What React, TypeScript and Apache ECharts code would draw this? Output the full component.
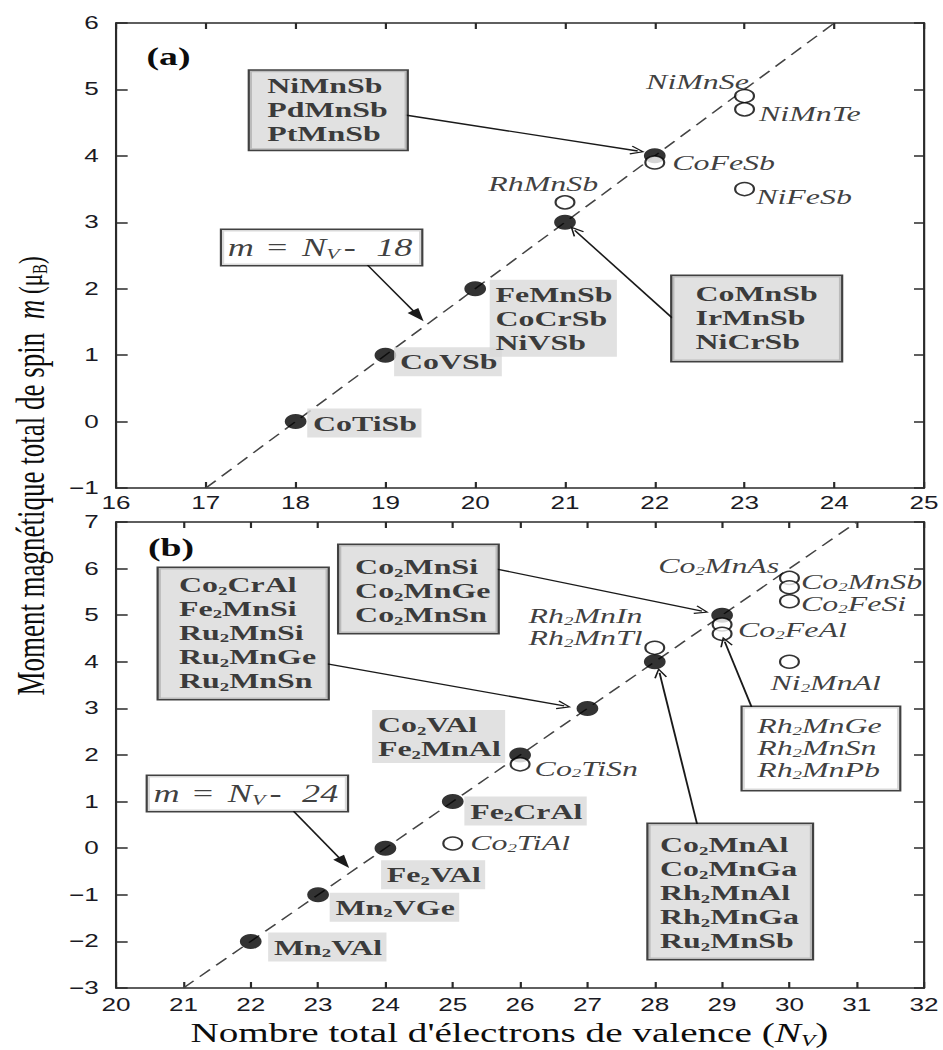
import React, { useEffect, useRef } from 'react';
import * as echarts from 'echarts';

// ---------- (a) half-Heusler alloys XYZ ----------
const halfNv = [18, 19, 20, 21, 22];
const halfM = [0, 1, 2, 3, 4];
const halfTags = ['CoTiSb', 'CoVSb', 'FeMnSb\nCoCrSb\nNiVSb', '', ''];

const halfOtherNames = ['RhMnSb', 'CoFeSb', 'NiMnSe', 'NiMnTe', 'NiFeSb'];
const halfOtherNv = [21, 22, 23, 23, 23];
const halfOtherM = [3.3, 3.9, 4.9, 4.7, 3.5];

// Slater-Pauling rule m = Nv - 18 (end points)
const halfRuleNv = [17, 24];
const halfRuleM = [-1, 6];

const halfNvTicks = [16, 25];
const halfMTicks = [-1, 6];

// ---------- (b) full-Heusler alloys X2YZ ----------
const fullNv = [22, 23, 24, 25, 26, 27, 28, 29];
const fullM = [-2, -1, 0, 1, 2, 3, 4, 5];
const fullTags = ['Mn2VAl', 'Mn2VGe', 'Fe2VAl', 'Fe2CrAl', 'Co2VAl\nFe2MnAl', '', '', ''];

const fullOtherNames = ['Co2TiAl', 'Co2TiSn', 'Rh2MnIn\nRh2MnTl', 'Co2FeAl', '', 'Co2MnAs', 'Co2MnSb', 'Co2FeSi', 'Ni2MnAl'];
const fullOtherNv = [25, 26, 28, 29, 29, 30, 30, 30, 30];
const fullOtherM = [0.1, 1.8, 4.3, 4.8, 4.6, 5.8, 5.6, 5.3, 4.0];

// Slater-Pauling rule m = Nv - 24 (end points)
const fullRuleNv = [21, 31];
const fullRuleM = [-3, 7];

const fullNvTicks = [20, 32];
const fullMTicks = [-3, 7];

// ---------- annotation layout ----------
type Note = { text: string; nv: number; m: number; kind: 'grey' | 'plain' | 'rule'; pad: number[] };
type Arrow = { from: [number, number]; to: [number, number]; head: 'open' | 'solid' };

const halfNotes: Note[] = [
  { text: 'NiMnSb\nPdMnSb\nPtMnSb', nv: 17.49, m: 5.28, kind: 'grey', pad: [3, 13, 4, 12] },
  { text: 'CoMnSb\nIrMnSb\nNiCrSb', nv: 22.195, m: 2.19, kind: 'grey', pad: [6, 16, 7, 16] },
  { text: '18', nv: 17.18, m: 2.884, kind: 'rule', pad: [4, 6, 4, 4] },
];
const fullNotes: Note[] = [
  { text: 'Co2CrAl\nFe2MnSi\nRu2MnSi\nRu2MnGe\nRu2MnSn', nv: 20.633, m: 6.013, kind: 'grey', pad: [5, 8, 6, 14] },
  { text: 'Co2MnSi\nCo2MnGe\nCo2MnSn', nv: 23.313, m: 6.506, kind: 'grey', pad: [10, 5, 6, 11] },
  { text: 'Co2MnAl\nCo2MnGa\nRh2MnAl\nRh2MnGa\nRu2MnSb', nv: 27.906, m: 0.519, kind: 'grey', pad: [9, 9, 6, 8] },
  { text: 'Rh2MnGe\nRh2MnSn\nRh2MnPb', nv: 29.305, m: 3.03, kind: 'plain', pad: [8, 12, 9, 10] },
  { text: '24', nv: 20.471, m: 1.549, kind: 'rule', pad: [4, 6, 4, 4] },
];

const halfArrows: Arrow[] = [
  { from: [19.22, 4.615], to: [21.81, 4.073], head: 'open' },
  { from: [22.195, 1.559], to: [21.109, 2.879], head: 'open' },
  { from: [18.8, 2.357], to: [19.366, 1.592], head: 'solid' },
];
const fullArrows: Arrow[] = [
  { from: [23.136, 3.953], to: [26.655, 3.052], head: 'open' },
  { from: [25.654, 5.991], to: [28.701, 5.09], head: 'open' },
  { from: [28.628, 0.519], to: [28.071, 3.762], head: 'open' },
  { from: [29.438, 3.03], to: [29.039, 4.433], head: 'open' },
  { from: [22.635, 0.798], to: [23.383, -0.311], head: 'solid' },
];

// label offsets (px) from the marker centre: [dx, dy, align, verticalAlign]
type Place = [number, number, 'left' | 'right' | 'center', 'top' | 'middle'];
const tagPlace: Record<string, Place> = {
  CoTiSb: [8, -13, 'left', 'top'],
  CoVSb: [6, -8, 'left', 'top'],
  'FeMnSb\nCoCrSb\nNiVSb': [10, -9, 'left', 'top'],
  Mn2VAl: [12, -9, 'left', 'top'],
  Mn2VGe: [8, -2, 'left', 'top'],
  Fe2VAl: [-3, 12, 'left', 'top'],
  Fe2CrAl: [8, -5, 'left', 'top'],
  'Co2VAl\nFe2MnAl': [-102, -45, 'left', 'top'],
};
const namePlace: Record<string, Place> = {
  RhMnSb: [-15, -19, 'center', 'middle'],
  CoFeSb: [12, 0, 'left', 'middle'],
  NiMnSe: [3, -14, 'right', 'middle'],
  NiMnTe: [10, 4, 'left', 'middle'],
  NiFeSb: [8, 8, 'left', 'middle'],
  Co2TiAl: [12, -1, 'left', 'middle'],
  Co2TiSn: [10, 4, 'left', 'middle'],
  'Rh2MnIn\nRh2MnTl': [-87, -43, 'left', 'top'],
  Co2FeAl: [11, 5, 'left', 'middle'],
  Co2MnAs: [-7, -12, 'right', 'middle'],
  Co2MnSb: [8, -5, 'left', 'middle'],
  Co2FeSi: [8, 3, 'left', 'middle'],
  Ni2MnAl: [25, 21, 'center', 'middle'],
};

// ---------- styling ----------
const CHART_W = 650;
const CHART_H = 1050;
const SERIF = '"Liberation Serif", "Times New Roman", serif';
const SANS = '"Liberation Sans", Arial, sans-serif';
const INK = '#0d0d0d';
const GREY = '#d9d9d9';
const FRAME = '#2a2a2a';

const RICH: Record<string, any> = {
  bold: { fontFamily: SERIF, fontWeight: 'bold', fontSize: 22, lineHeight: 24, color: INK },
  boldSub: { fontFamily: SERIF, fontWeight: 'bold', fontSize: 13, lineHeight: 13, padding: [11, 0, 0, 0], color: INK },
  ital: { fontFamily: SERIF, fontStyle: 'italic', fontSize: 22, lineHeight: 22, color: INK },
  italSub: { fontFamily: SERIF, fontStyle: 'italic', fontSize: 13, lineHeight: 13, padding: [10, 0, 0, 0], color: INK },
  ruleM: { fontFamily: SERIF, fontStyle: 'italic', fontSize: 25, lineHeight: 27, color: INK },
  ruleEq: { fontFamily: SERIF, fontSize: 25, lineHeight: 27, padding: [0, 10, 0, 9], color: INK },
  ruleSub: { fontFamily: SERIF, fontStyle: 'italic', fontSize: 15, lineHeight: 15, padding: [12, 0, 0, 0], color: INK },
  ruleDash: { fontFamily: SERIF, fontSize: 25, lineHeight: 27, padding: [0, 14, 0, 3], color: INK },
};

const formulaRich = (text: string, main: string) =>
  text
    .split('\n')
    .map((line) =>
      line
        .split(/(\d+)/)
        .filter((s) => s.length > 0)
        .map((s) => (/^\d+$/.test(s) ? `{${main}Sub|${s}}` : `{${main}|${s}}`))
        .join('')
    )
    .join('\n');

const ruleRich = (n: string) => `{ruleM|m}{ruleEq|=}{ruleM|N}{ruleSub|V}{ruleDash|-}{ruleM|${n}}`;

const minusFmt = (v: number) => (v < 0 ? '\u2212' + Math.abs(v) : String(v));

const OPEN_HEAD = 'path://M5,0 L10,11 L8.8,11.6 L5,3 L1.2,11.6 L0,11 Z';

function panelAxes(grid: number, nvRange: number[], mRange: number[]) {
  const tickStyle = { color: FRAME, width: 1.5 };
  const line = { show: true, onZero: false, lineStyle: { color: FRAME, width: 1.5 } };
  const label = { fontFamily: SANS, fontSize: 18, color: '#1a1a24' };
  const x = [
    {
      gridIndex: grid, type: 'value', position: 'bottom', min: nvRange[0], max: nvRange[1], interval: 1,
      axisLine: line, axisTick: { inside: true, length: 6, lineStyle: tickStyle },
      axisLabel: { ...label, margin: grid === 0 ? 6 : 8 }, splitLine: { show: false },
    },
    {
      gridIndex: grid, type: 'value', position: 'top', min: nvRange[0], max: nvRange[1], interval: 1,
      axisLine: line, axisTick: { inside: true, length: 6, lineStyle: tickStyle },
      axisLabel: { show: false }, splitLine: { show: false },
    },
  ];
  const y = [
    {
      gridIndex: grid, type: 'value', position: 'left', min: mRange[0], max: mRange[1], interval: 1,
      axisLine: line, axisTick: { inside: true, length: 8, lineStyle: tickStyle },
      axisLabel: { ...label, margin: 12, formatter: minusFmt }, splitLine: { show: false },
    },
    {
      gridIndex: grid, type: 'value', position: 'right', min: mRange[0], max: mRange[1], interval: 1,
      axisLine: line, axisTick: { inside: true, length: 7, lineStyle: tickStyle },
      axisLabel: { show: false }, splitLine: { show: false },
    },
  ];
  return { x, y };
}

function panelSeries(
  axis: number,
  ruleNv: number[], ruleM: number[],
  nv: number[], m: number[], tags: string[],
  otherNv: number[], otherM: number[], otherNames: string[],
  notes: Note[], arrows: Arrow[]
) {
  const base = { xAxisIndex: axis, yAxisIndex: axis, silent: true, emphasis: { disabled: true } };
  return [
    {
      ...base,
      type: 'line',
      data: ruleNv.map((v, i) => [v, ruleM[i]]),
      symbol: 'none',
      lineStyle: { color: '#444', width: 1.3, type: [10, 6] },
      z: 1,
    },
    {
      ...base,
      type: 'scatter',
      symbol: 'circle',
      symbolSize: 15,
      itemStyle: { color: '#000' },
      z: 3,
      data: nv.map((v, i) => {
        const item: any = { value: [v, m[i]] };
        const tag = tags[i];
        if (tag) {
          const p = tagPlace[tag];
          item.label = {
            show: true, position: 'inside', align: p[2], verticalAlign: p[3], offset: [p[0], p[1]],
            formatter: () => formulaRich(tag, 'bold'), rich: RICH, color: INK, lineHeight: 24,
            backgroundColor: GREY, padding: [3, 3, 2, 4],
          };
        }
        return item;
      }),
    },
    {
      ...base,
      type: 'scatter',
      symbol: 'circle',
      symbolSize: 13,
      itemStyle: { color: '#fff', borderColor: '#000', borderWidth: 1.5 },
      z: 4,
      data: otherNv.map((v, i) => {
        const item: any = { value: [v, otherM[i]] };
        const name = otherNames[i];
        if (name) {
          const p = namePlace[name];
          item.label = {
            show: true, position: 'inside', align: p[2], verticalAlign: p[3], offset: [p[0], p[1]],
            formatter: () => formulaRich(name, 'ital'), rich: RICH, color: INK, lineHeight: 23,
          };
        }
        return item;
      }),
    },
    {
      ...base,
      type: 'scatter',
      symbol: 'circle',
      symbolSize: 1,
      itemStyle: { color: 'rgba(0,0,0,0)' },
      z: 6,
      data: notes.map((n) => ({
        value: [n.nv, n.m],
        label: {
          show: true, position: 'inside', align: 'left', verticalAlign: 'top', offset: [0, 0],
          formatter: () =>
            n.kind === 'rule' ? ruleRich(n.text) : formulaRich(n.text, n.kind === 'grey' ? 'bold' : 'ital'),
          rich: RICH, color: INK, lineHeight: 24,
          backgroundColor: n.kind === 'grey' ? GREY : '#fff',
          borderColor: '#111', borderWidth: 1.5, padding: n.pad,
        },
      })),
      markLine: {
        silent: true,
        animation: false,
        symbol: ['none', 'none'],
        label: { show: false },
        emphasis: { disabled: true },
        lineStyle: { color: '#1a1a1a', width: 1.3, type: 'solid' },
        data: arrows.map((a) => [
          { coord: a.from, symbol: 'none' },
          a.head === 'open'
            ? { coord: a.to, symbol: OPEN_HEAD, symbolSize: [9, 10] }
            : { coord: a.to, symbol: 'triangle', symbolSize: [9, 13] },
        ]),
      },
    },
  ];
}

function buildOption() {
  const a = panelAxes(0, halfNvTicks, halfMTicks);
  const b = panelAxes(1, fullNvTicks, fullMTicks);
  return {
    animation: false,
    backgroundColor: '#fff',
    textStyle: { fontFamily: SERIF },
    grid: [
      { left: 80, top: 23, width: 562, height: 465 },
      { left: 80, top: 522, width: 562, height: 466 },
    ],
    xAxis: [...a.x, ...b.x],
    yAxis: [...a.y, ...b.y],
    series: [
      ...panelSeries(0, halfRuleNv, halfRuleM, halfNv, halfM, halfTags, halfOtherNv, halfOtherM, halfOtherNames, halfNotes, halfArrows),
      ...panelSeries(2, fullRuleNv, fullRuleM, fullNv, fullM, fullTags, fullOtherNv, fullOtherM, fullOtherNames, fullNotes, fullArrows),
    ],
    graphic: [
      {
        type: 'text', x: 101, y: 43, silent: true,
        style: { text: '(a)', fontFamily: SERIF, fontWeight: 'bold', fontSize: 26, fill: INK },
      },
      {
        type: 'text', x: 102, y: 534, silent: true,
        style: { text: '(b)', fontFamily: SERIF, fontWeight: 'bold', fontSize: 26, fill: INK },
      },
      {
        type: 'text', x: 21, y: 476, rotation: Math.PI / 2, silent: true,
        style: {
          text: '{t|Moment magnétique total de spin  }{ti|m}{tp| (μ}{ts|B}{tp|)}',
          align: 'center', verticalAlign: 'middle',
          rich: {
            t: { fontFamily: SERIF, fontSize: 27, fill: INK, lineHeight: 30 },
            ti: { fontFamily: SERIF, fontStyle: 'italic', fontSize: 27, fill: INK, lineHeight: 30 },
            tp: { fontFamily: SERIF, fontSize: 23, fill: INK, lineHeight: 30 },
            ts: { fontFamily: SERIF, fontSize: 15, fill: INK, lineHeight: 15, padding: [13, 0, 0, 0] },
          },
        },
      },
      {
        type: 'text', x: 351, y: 1033, silent: true,
        style: {
          text: "{t|Nombre total d'électrons de valence (}{ti|N}{ts|V}{t|)}",
          align: 'center', verticalAlign: 'middle',
          rich: {
            t: { fontFamily: SERIF, fontSize: 27, fill: INK, lineHeight: 30 },
            ti: { fontFamily: SERIF, fontStyle: 'italic', fontSize: 27, fill: INK, lineHeight: 30 },
            ts: { fontFamily: SERIF, fontStyle: 'italic', fontSize: 16, fill: INK, lineHeight: 16, padding: [14, 0, 0, 0] },
          },
        },
      },
    ],
  };
}

export default function App() {
  const ref = useRef<HTMLDivElement>(null);
  useEffect(() => {
    if (!ref.current) return;
    const chart = echarts.init(ref.current, null, { renderer: 'svg' });
    chart.setOption(buildOption() as any);
    return () => chart.dispose();
  }, []);
  return (
    <div
      style={{
        position: 'absolute', left: 0, top: 0, width: 943, height: 1050,
        overflow: 'hidden', background: '#fff',
      }}
    >
      <div
        ref={ref}
        style={{
          width: CHART_W, height: CHART_H,
          transform: `scaleX(${943 / CHART_W})`, transformOrigin: '0 0',
        }}
      />
    </div>
  );
}
